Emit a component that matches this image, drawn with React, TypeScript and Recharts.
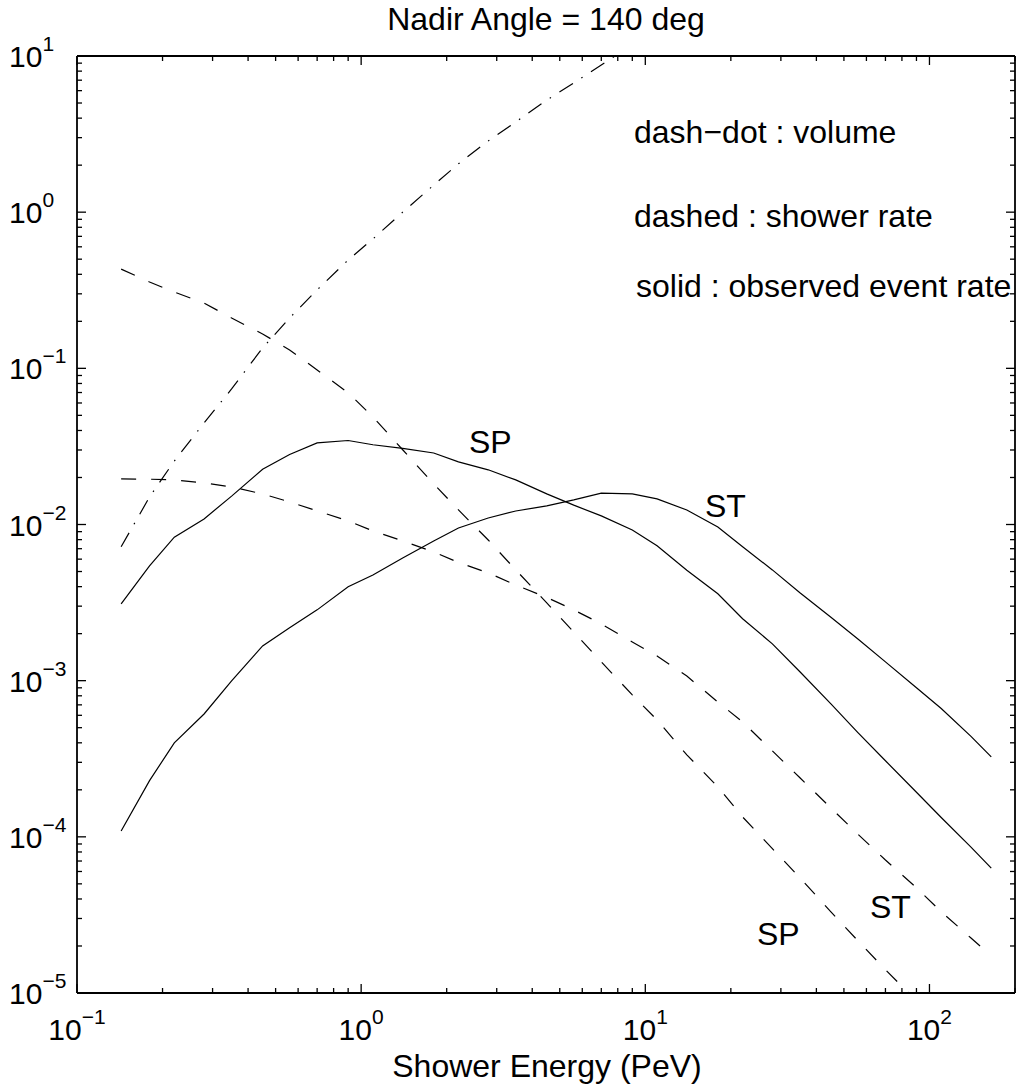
import { LineChart, Line, XAxis, YAxis } from "recharts";

// shower energy grid (PeV)
const energy = [
  0.143, 0.18, 0.22, 0.28, 0.35, 0.45, 0.56, 0.7, 0.9, 1.1, 1.4, 1.8, 2.2, 2.8, 3.5, 4.5,
  5.6, 7, 9, 11, 14, 18, 22, 28, 35, 45, 56, 70, 90, 110, 140, 165,
];

// dash-dot: effective volume
const volume = [
  7.2e-3, 0.015, 0.0255, 0.0447, 0.0738, 0.135, 0.21, 0.318, 0.494, 0.674, 1.0, 1.49, 2.04,
  2.86, 3.78, 5.22, 6.72, 8.76, 11.8, null, null, null, null, null, null, null, null, null,
  null, null, null, null,
];

// dashed: shower rates
const spShower = [
  0.432, 0.357, 0.308, 0.262, 0.21, 0.166, 0.131, 0.0977, 0.0697, 0.0489, 0.0301, 0.0182,
  0.0124, 7.96e-3, 5.12e-3, 3.15e-3, 2.05e-3, 1.32e-3, 8.1e-4, 5.6e-4, 3.35e-4, 2.09e-4,
  1.34e-4, 8.4e-5, 5.47e-5, 3.31e-5, 2.16e-5, 1.41e-5, 8.9e-6, null, null, null,
];
const stShower = [
  0.0196, 0.0195, 0.0193, 0.01846, 0.0174, 0.0157, 0.01396, 0.01222, 0.01054, 9.1e-3, 7.85e-3,
  6.68e-3, 5.71e-3, 4.9e-3, 4.1e-3, 3.41e-3, 2.84e-3, 2.31e-3, 1.77e-3, 1.44e-3, 1.07e-3,
  7.3e-4, 5.44e-4, 3.55e-4, 2.39e-4, 1.53e-4, 1.04e-4, 7.1e-5, 4.72e-5, 3.31e-5, 2.25e-5,
  1.73e-5,
];

// solid: observed event rates
const spObserved = [
  3.1e-3, 5.43e-3, 8.3e-3, 0.01086, 0.0152, 0.0226, 0.0281, 0.0333, 0.0345, 0.0324, 0.0307,
  0.0287, 0.0252, 0.0224, 0.0193, 0.0157, 0.0133, 0.01135, 9.23e-3, 7.3e-3, 5.1e-3, 3.6e-3,
  2.49e-3, 1.72e-3, 1.14e-3, 7.1e-4, 4.65e-4, 3.07e-4, 1.93e-4, 1.33e-4, 8.6e-5, 6.3e-5,
];
const stObserved = [
  1.09e-4, 2.29e-4, 4.0e-4, 6.12e-4, 9.98e-4, 1.67e-3, 2.18e-3, 2.84e-3, 3.99e-3, 4.75e-3,
  6.1e-3, 7.85e-3, 9.5e-3, 0.011, 0.0122, 0.01315, 0.01437, 0.0159, 0.0157, 0.01459, 0.01239,
  9.65e-3, 7.2e-3, 5.12e-3, 3.66e-3, 2.55e-3, 1.85e-3, 1.32e-3, 9.0e-4, 6.64e-4, 4.4e-4,
  3.25e-4,
];

const rows = energy.map((e, i) => ({
  e,
  volume: volume[i],
  spShower: spShower[i],
  stShower: stShower[i],
  spObserved: spObserved[i],
  stObserved: stObserved[i],
}));

// log axes: decades plus 2..9 minor ticks
function logTicks(lo: number, hi: number) {
  const out: number[] = [];
  for (let k = Math.round(Math.log10(lo)); 10 ** k <= hi * 1.0001; k++) {
    for (let m = 1; m <= 9; m++) {
      const v = m * 10 ** k;
      if (v >= lo * 0.9999 && v <= hi * 1.0001) out.push(v);
    }
  }
  return out;
}
const xTicks = logTicks(0.1, 200);
const yTicks = logTicks(1e-5, 10);

const FONT = "'Liberation Sans', Arial, Helvetica, sans-serif";
const MAJOR = 9;
const MINOR = 5;

const decade = (v: number) => {
  const k = Math.round(Math.log10(v));
  return Math.abs(Math.log10(v) - k) < 1e-6 ? k : null;
};
const expText = (k: number) => (k < 0 ? "\u2212" + Math.abs(k) : String(k));

// inward tick marks on all four sides, "10^k" labels on bottom and left only
function TickMark(props: any) {
  const { x, y, payload, side } = props;
  const k = decade(payload.value);
  const len = k === null ? MINOR : MAJOR;
  let line;
  if (side === "bottom") line = <line x1={x} y1={y} x2={x} y2={y - len} />;
  else if (side === "top") line = <line x1={x} y1={y} x2={x} y2={y + len} />;
  else if (side === "left") line = <line x1={x} y1={y} x2={x + len} y2={y} />;
  else line = <line x1={x} y1={y} x2={x - len} y2={y} />;
  return (
    <g stroke="#000" strokeWidth={1.3}>
      {line}
      {k !== null && side === "bottom" && (
        <text x={x} y={y + 47} textAnchor="middle" fontFamily={FONT} fontSize={30} fill="#000" stroke="none">
          10
          <tspan dy={-16} fontSize={21}>{expText(k)}</tspan>
        </text>
      )}
      {k !== null && side === "left" && (
        <text x={9} y={y + 11} textAnchor="start" fontFamily={FONT} fontSize={30} fill="#000" stroke="none">
          10
          <tspan dy={-16} fontSize={21}>{expText(k)}</tspan>
        </text>
      )}
    </g>
  );
}

const axisLine = { stroke: "#000", strokeWidth: 1.8 };

export default function App() {
  return (
    <div style={{ position: "absolute", left: 0, top: 0, width: 1018, height: 1087, background: "#fff" }}>
      <LineChart width={1018} height={1087} data={rows} margin={{ top: 26, right: 0, bottom: 0, left: 0 }}>
        <XAxis
          xAxisId="b"
          dataKey="e"
          type="number"
          scale="log"
          domain={[0.1, 200]}
          allowDataOverflow
          ticks={xTicks}
          interval={0}
          height={94}
          tickSize={0}
          tickMargin={0}
          tickLine={false}
          axisLine={axisLine}
          tick={(p: any) => <TickMark {...p} side="bottom" />}
        />
        <XAxis
          xAxisId="t"
          orientation="top"
          dataKey="e"
          type="number"
          scale="log"
          domain={[0.1, 200]}
          allowDataOverflow
          ticks={xTicks}
          interval={0}
          height={30}
          tickSize={0}
          tickMargin={0}
          tickLine={false}
          axisLine={axisLine}
          tick={(p: any) => <TickMark {...p} side="top" />}
        />
        <YAxis
          yAxisId="l"
          type="number"
          scale="log"
          domain={[1e-5, 10]}
          allowDataOverflow
          ticks={yTicks}
          interval={0}
          width={77}
          tickSize={0}
          tickMargin={0}
          tickLine={false}
          axisLine={axisLine}
          tick={(p: any) => <TickMark {...p} side="left" />}
        />
        <YAxis
          yAxisId="r"
          orientation="right"
          type="number"
          scale="log"
          domain={[1e-5, 10]}
          allowDataOverflow
          ticks={yTicks}
          interval={0}
          width={3}
          tickSize={0}
          tickMargin={0}
          tickLine={false}
          axisLine={axisLine}
          tick={(p: any) => <TickMark {...p} side="right" />}
        />
        <Line xAxisId="b" yAxisId="l" dataKey="volume" type="linear" stroke="#000" strokeWidth={1.2}
          strokeDasharray="16 10 1.5 10" dot={false} isAnimationActive={false} />
        <Line xAxisId="b" yAxisId="l" dataKey="spShower" type="linear" stroke="#000" strokeWidth={1.2}
          strokeDasharray="15 15" dot={false} isAnimationActive={false} />
        <Line xAxisId="b" yAxisId="l" dataKey="stShower" type="linear" stroke="#000" strokeWidth={1.2}
          strokeDasharray="15 15" dot={false} isAnimationActive={false} />
        <Line xAxisId="b" yAxisId="l" dataKey="spObserved" type="linear" stroke="#000" strokeWidth={1.2}
          dot={false} isAnimationActive={false} />
        <Line xAxisId="b" yAxisId="l" dataKey="stObserved" type="linear" stroke="#000" strokeWidth={1.2}
          dot={false} isAnimationActive={false} />
      </LineChart>
      <svg width={1018} height={1087} style={{ position: "absolute", left: 0, top: 0, pointerEvents: "none" }}
        fontFamily={FONT} fill="#000">
        <text x={546} y={30} textAnchor="middle" fontSize={32}>Nadir Angle = 140 deg</text>
        <text x={547} y={1077} textAnchor="middle" fontSize={32}>Shower Energy (PeV)</text>
        <text x={634} y={143} fontSize={32}>dash{"\u2212"}dot : volume</text>
        <text x={634} y={227} fontSize={32}>dashed : shower rate</text>
        <text x={636} y={297} fontSize={32}>solid : observed event rate</text>
        <text x={469} y={453} fontSize={32}>SP</text>
        <text x={705} y={517} fontSize={32}>ST</text>
        <text x={870} y={918} fontSize={32}>ST</text>
        <text x={757} y={945} fontSize={32}>SP</text>
      </svg>
    </div>
  );
}
